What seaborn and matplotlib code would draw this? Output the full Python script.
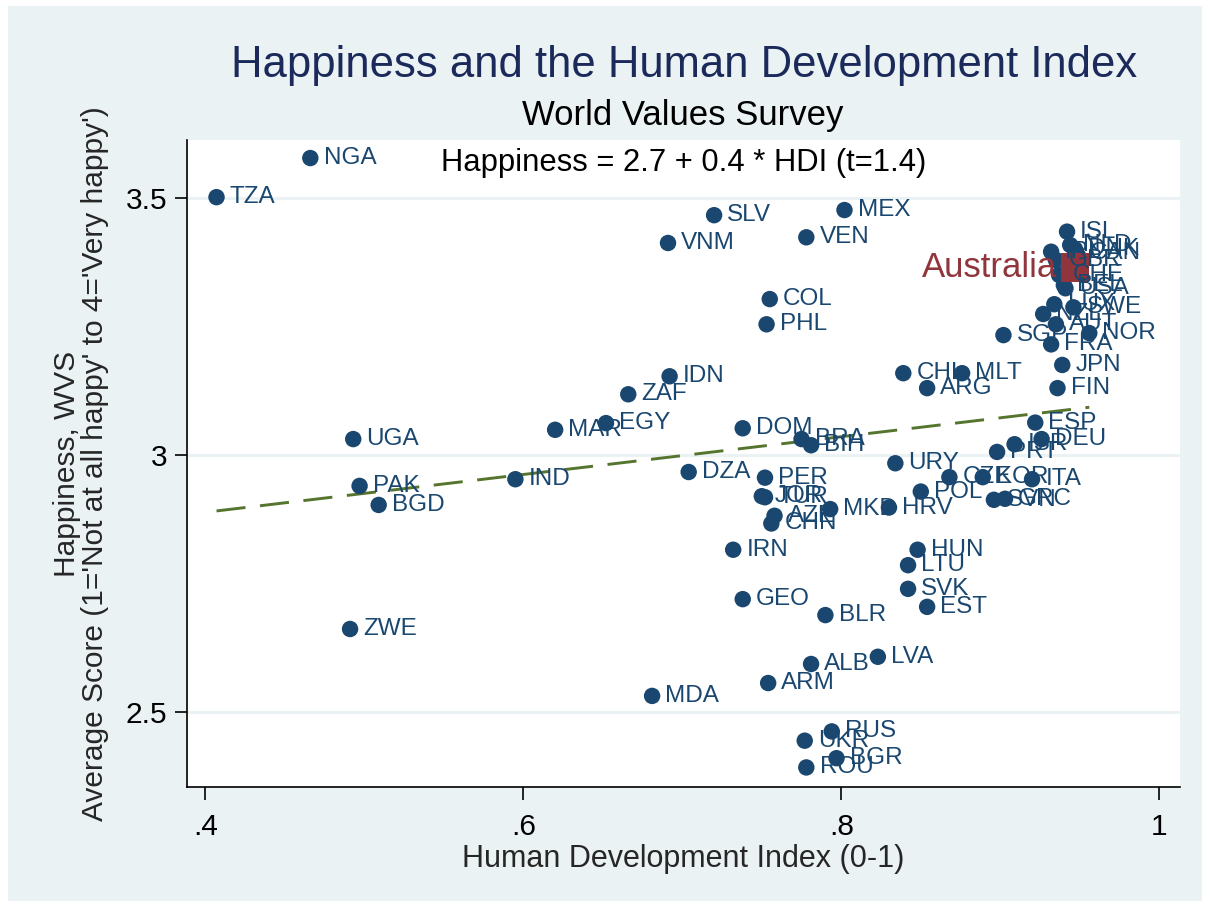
import matplotlib.pyplot as plt
import matplotlib.patches as mpatches
import seaborn as sns
import pandas as pd
import numpy as np

# values
codes = ['NGA', 'TZA', 'SLV', 'MEX', 'VNM', 'VEN', 'COL', 'PHL', 'IDN', 'ZAF',
         'EGY', 'MAR', 'UGA', 'DOM', 'BRA', 'BIH', 'DZA', 'PER', 'JOR', 'TUR',
         'AZE', 'CHN', 'MKD', 'HRV', 'URY', 'POL', 'CZE', 'KOR', 'ITA', 'SVN',
         'GRC', 'PRT', 'ISR', 'DEU', 'ESP', 'ARG', 'CHL', 'MLT', 'SGP', 'FRA',
         'NOR', 'AUT', 'JPN', 'FIN', 'SWE', 'NZL', 'LUX', 'ISL', 'NLD', 'DNK',
         'CAN', 'IRL', 'GBR', 'CHE', 'BEL', 'USA', 'PAK', 'BGD', 'IND', 'ZWE',
         'IRN', 'GEO', 'BLR', 'MDA', 'ALB', 'ARM', 'LVA', 'HUN', 'LTU', 'SVK',
         'EST', 'RUS', 'UKR', 'BGR', 'ROU']
hdi = [0.466, 0.407, 0.720, 0.802, 0.691, 0.778, 0.755, 0.753, 0.692, 0.666,
       0.652, 0.620, 0.493, 0.738, 0.775, 0.781, 0.704, 0.752, 0.750, 0.752,
       0.758, 0.756, 0.793, 0.830, 0.834, 0.850, 0.868, 0.889, 0.920, 0.896,
       0.903, 0.898, 0.909, 0.926, 0.922, 0.854, 0.839, 0.876, 0.902, 0.932,
       0.956, 0.935, 0.939, 0.936, 0.946, 0.927, 0.934, 0.942, 0.944, 0.947,
       0.948, 0.932, 0.935, 0.937, 0.940, 0.941, 0.497, 0.509, 0.595, 0.491,
       0.732, 0.738, 0.790, 0.681, 0.781, 0.754, 0.823, 0.848, 0.842, 0.842,
       0.854, 0.794, 0.777, 0.797, 0.778]
happy = [3.577, 3.501, 3.466, 3.476, 3.412, 3.423, 3.303, 3.254, 3.153, 3.118,
         3.062, 3.049, 3.031, 3.052, 3.031, 3.019, 2.967, 2.956, 2.920, 2.918,
         2.882, 2.867, 2.895, 2.898, 2.984, 2.929, 2.957, 2.957, 2.953, 2.913,
         2.915, 3.006, 3.021, 3.031, 3.063, 3.130, 3.159, 3.159, 3.233, 3.215,
         3.237, 3.254, 3.175, 3.130, 3.287, 3.274, 3.293, 3.434, 3.408, 3.400,
         3.392, 3.395, 3.379, 3.350, 3.330, 3.324, 2.940, 2.903, 2.953, 2.662,
         2.816, 2.720, 2.689, 2.532, 2.594, 2.557, 2.608, 2.816, 2.786, 2.740,
         2.705, 2.463, 2.445, 2.411, 2.393]
aus_hdi = [0.947]
aus_happy = [3.364]

# fitted line as drawn in the reference
fit_intercept = 2.742
fit_slope = 0.367

navy = '#1a476f'
red = '#90353b'
green = '#55752f'
bg = '#eaf2f3'

df = pd.DataFrame({'code': codes, 'hdi': hdi, 'happy': happy})
aus = pd.DataFrame({'hdi': aus_hdi, 'happy': aus_happy})
fit_x = np.array([min(hdi), max(hdi)])
fit = pd.DataFrame({'hdi': fit_x, 'happy': fit_intercept + fit_slope * fit_x})

sns.set_style('white')
plt.rcParams['font.family'] = ['Liberation Sans', 'DejaVu Sans']

fig = plt.figure(figsize=(12.1, 9.07), dpi=100)
fig.patch.set_facecolor('white')
fig.patches.append(mpatches.Rectangle((0.007, 0.007), 0.986, 0.986,
                                      transform=fig.transFigure,
                                      facecolor=bg, edgecolor='none', zorder=-10))
ax = fig.add_axes([0.1545, 0.1323, 0.8205, 0.7133])
ax.set_facecolor('white')

sns.lineplot(data=fit, x='hdi', y='happy', ax=ax, color=green, lw=2.1,
             dashes=False, zorder=2).lines[0].set_dashes((10, 5))

sns.scatterplot(data=df, x='hdi', y='happy', ax=ax, color=navy, s=140,
                edgecolor='none', zorder=3)
sns.scatterplot(data=aus, x='hdi', y='happy', ax=ax, color=red, marker='s',
                s=420, edgecolor='none', zorder=4)

for c, x, y in zip(codes, hdi, happy):
    ax.annotate(c, (x, y), xytext=(9.5, 0), textcoords='offset points',
                va='center', ha='left', fontsize=17.5, color=navy, zorder=5)
ax.annotate('Australia', (aus_hdi[0], aus_happy[0]), xytext=(-13, 0),
            textcoords='offset points', va='center', ha='right',
            fontsize=25, color=red, zorder=5)

ax.set_xlim(0.3884, 1.0129)
ax.set_ylim(2.355, 3.612)
ax.set_xticks([0.4, 0.6, 0.8, 1.0])
ax.set_xticklabels(['.4', '.6', '.8', '1'])
ax.set_yticks([2.5, 3.0, 3.5])
ax.set_yticklabels(['2.5', '3', '3.5'])
ax.yaxis.grid(True, color=bg, lw=2.2)
ax.set_axisbelow(True)
for s in ['top', 'right']:
    ax.spines[s].set_visible(False)
for s in ['left', 'bottom']:
    ax.spines[s].set_color('black')
    ax.spines[s].set_linewidth(1.2)
ax.tick_params(axis='both', direction='out', length=9, width=1.2,
               labelsize=21.5, colors='black', bottom=True, left=True)
ax.tick_params(axis='x', pad=10)
ax.tick_params(axis='y', pad=5)

ax.set_xlabel('Human Development Index (0-1)', fontsize=22, labelpad=2)
ax.set_ylabel("Happiness, WVS\nAverage Score (1='Not at all happy' to 4='Very happy')",
              fontsize=21.5, labelpad=12, linespacing=1.0)

ax.text(0.5, 0.988, 'Happiness = 2.7 + 0.4 * HDI (t=1.4)', transform=ax.transAxes,
        ha='center', va='top', fontsize=22.3, color='black')

fig.text(0.5657, 0.928, 'Happiness and the Human Development Index',
         ha='center', va='center', fontsize=31.4, color='#1c2a5b')
fig.text(0.564, 0.873, 'World Values Survey', ha='center', va='center',
         fontsize=25, color='black')

fig.savefig('out.png', dpi=100, facecolor=fig.get_facecolor())
